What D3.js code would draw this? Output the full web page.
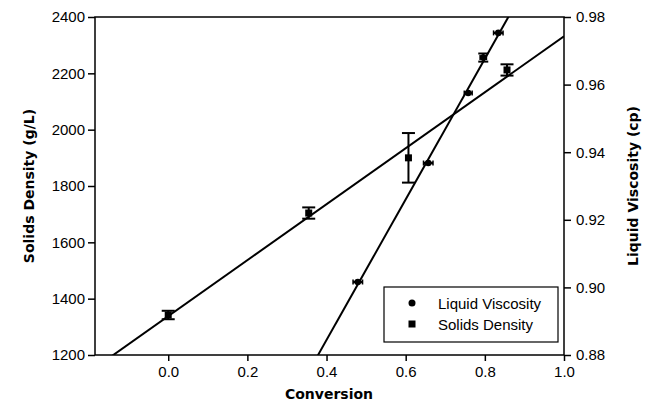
<!DOCTYPE html>
<html>
<head>
<meta charset="utf-8">
<script src="https://cdn.jsdelivr.net/npm/d3@7"></script>
<style>
  body { margin: 0; background: #fff; }
  text { font-family: "Liberation Sans", Arial, sans-serif; }
</style>
</head>
<body>
<svg id="chart" width="649" height="404"></svg>
<script>
// Solids density (left axis)
var densX = [0.0, 0.355, 0.607, 0.856];
var densY = [1342, 1704, 1900, 2212];
var densErr = [15, 20, 88, 20];

// Liquid viscosity (right axis)
var viscX = [0.479, 0.657, 0.758, 0.796, 0.834];
var viscY = [0.9016, 0.9368, 0.9575, 0.968, 0.9753];
var viscXErr = [0.012, 0.012, 0.01, 0.008, 0.012];
var viscYErr = [0, 0, 0, 0.0012, 0];

var xTicks = [0.0, 0.2, 0.4, 0.6, 0.8, 1.0];
var yLeftTicks = [1200, 1400, 1600, 1800, 2000, 2200, 2400];
var yRightTicks = [0.88, 0.90, 0.92, 0.94, 0.96, 0.98];

var svg = d3.select("#chart");
var pLeft = 95, pRight = 564, pTop = 17, pBottom = 355;
var titleFont = "'DejaVu Sans', Verdana, sans-serif";

var x = d3.scaleLinear().domain([-0.185, 1.0]).range([pLeft, pRight]);
var yL = d3.scaleLinear().domain([1200, 2400]).range([pBottom, pTop]);
var yR = d3.scaleLinear().domain([0.88, 0.98]).range([pBottom, pTop]);

// least squares fit
function fit(xs, ys) {
	var mx = d3.mean(xs), my = d3.mean(ys), sxx = 0, sxy = 0;
	for (var i = 0; i < xs.length; i++) {
		sxx += (xs[i] - mx) * (xs[i] - mx);
		sxy += (xs[i] - mx) * (ys[i] - my);
	}
	var b = sxy / sxx;
	return { b: b, a: my - b * mx };
}

svg.append("defs").append("clipPath").attr("id", "clip")
	.append("rect").attr("x", pLeft).attr("y", pTop)
	.attr("width", pRight - pLeft).attr("height", pBottom - pTop);

var plot = svg.append("g").attr("clip-path", "url(#clip)");

var fd = fit(densX, densY), fv = fit(viscX, viscY);
var xs = x.domain();
plot.append("line")
	.attr("x1", x(xs[0])).attr("y1", yL(fd.a + fd.b * xs[0]))
	.attr("x2", x(xs[1])).attr("y2", yL(fd.a + fd.b * xs[1]))
	.attr("stroke", "#000").attr("stroke-width", 2);
plot.append("line")
	.attr("x1", x(xs[0])).attr("y1", yR(fv.a + fv.b * xs[0]))
	.attr("x2", x(xs[1])).attr("y2", yR(fv.a + fv.b * xs[1]))
	.attr("stroke", "#000").attr("stroke-width", 2);

// axes
var fmt1 = d3.format(".1f"), fmt2 = d3.format(".2f"), fmt0 = d3.format("d");
svg.append("g").attr("transform", "translate(0," + pBottom + ")")
	.call(d3.axisBottom(x).tickValues(xTicks).tickFormat(fmt1).tickSize(6).tickPadding(5).tickSizeOuter(0))
	.call(function(g) { g.select(".domain").remove(); });
svg.append("g").attr("transform", "translate(" + pLeft + ",0)")
	.call(d3.axisLeft(yL).tickValues(yLeftTicks).tickFormat(fmt0).tickSize(7).tickPadding(3).tickSizeOuter(0))
	.call(function(g) { g.select(".domain").remove(); });
svg.append("g").attr("transform", "translate(" + pRight + ",0)")
	.call(d3.axisRight(yR).tickValues(yRightTicks).tickFormat(fmt2).tickSize(7).tickPadding(5).tickSizeOuter(0))
	.call(function(g) { g.select(".domain").remove(); });

svg.selectAll(".tick line").attr("stroke", "#000").attr("stroke-width", 1.5);
svg.selectAll(".tick text").attr("font-size", 15).attr("fill", "#000")
	.style("font-family", "'Liberation Sans', Arial, sans-serif");

// frame
svg.append("rect").attr("x", pLeft).attr("y", pTop)
	.attr("width", pRight - pLeft).attr("height", pBottom - pTop)
	.attr("fill", "none").attr("stroke", "#000").attr("stroke-width", 1.5);

// density error bars + squares
var dg = svg.append("g");
densX.forEach(function(d, i) {
	var cx = x(d), y0 = yL(densY[i] - densErr[i]), y1 = yL(densY[i] + densErr[i]);
	dg.append("line").attr("x1", cx).attr("x2", cx).attr("y1", y0).attr("y2", y1)
		.attr("stroke", "#000").attr("stroke-width", 2);
	[y0, y1].forEach(function(yy) {
		dg.append("line").attr("x1", cx - 6.5).attr("x2", cx + 6.5).attr("y1", yy).attr("y2", yy)
			.attr("stroke", "#000").attr("stroke-width", 2);
	});
	dg.append("rect").attr("x", cx - 3.5).attr("y", yL(densY[i]) - 3.5)
		.attr("width", 7).attr("height", 7).attr("fill", "#000");
});

// viscosity error bars + circles
var vg = svg.append("g");
viscX.forEach(function(d, i) {
	var cy = yR(viscY[i]), cx = x(d);
	if (viscXErr[i] > 0) {
		var x0 = x(d - viscXErr[i]), x1 = x(d + viscXErr[i]);
		vg.append("line").attr("x1", x0).attr("x2", x1).attr("y1", cy).attr("y2", cy)
			.attr("stroke", "#000").attr("stroke-width", 2.5);
		[x0, x1].forEach(function(xx) {
			vg.append("line").attr("x1", xx).attr("x2", xx).attr("y1", cy - 2.5).attr("y2", cy + 2.5)
				.attr("stroke", "#000").attr("stroke-width", 1.5);
		});
	}
	if (viscYErr[i] > 0) {
		var ya = yR(viscY[i] - viscYErr[i]), yb = yR(viscY[i] + viscYErr[i]);
		vg.append("line").attr("x1", cx).attr("x2", cx).attr("y1", ya).attr("y2", yb)
			.attr("stroke", "#000").attr("stroke-width", 2);
		[ya, yb].forEach(function(yy) {
			vg.append("line").attr("x1", cx - 5).attr("x2", cx + 5).attr("y1", yy).attr("y2", yy)
				.attr("stroke", "#000").attr("stroke-width", 2);
		});
	}
	vg.append("circle").attr("cx", cx).attr("cy", cy).attr("r", 3.3).attr("fill", "#000");
});

// axis titles
svg.append("text").attr("x", 329).attr("y", 399)
	.attr("text-anchor", "middle").attr("font-size", 14).attr("font-weight", "bold")
	.style("font-family", titleFont)
	.text("Conversion");
svg.append("text").attr("transform", "translate(34," + (pTop + pBottom) / 2 + ") rotate(-90)")
	.attr("text-anchor", "middle").attr("font-size", 14).attr("font-weight", "bold")
	.style("font-family", titleFont)
	.text("Solids Density (g/L)");
svg.append("text").attr("transform", "translate(638," + (pTop + pBottom) / 2 + ") rotate(-90)")
	.attr("text-anchor", "middle").attr("font-size", 14).attr("font-weight", "bold")
	.style("font-family", titleFont)
	.text("Liquid Viscosity (cp)");

// legend
var lg = svg.append("g").attr("transform", "translate(384,287)");
lg.append("rect").attr("width", 174).attr("height", 55)
	.attr("fill", "#fff").attr("stroke", "#000").attr("stroke-width", 1.2);
lg.append("circle").attr("cx", 28).attr("cy", 16).attr("r", 3.5).attr("fill", "#000");
lg.append("rect").attr("x", 24.5).attr("y", 33.5).attr("width", 7).attr("height", 7).attr("fill", "#000");
lg.append("text").attr("x", 54).attr("y", 21.5).attr("font-size", 15).text("Liquid Viscosity");
lg.append("text").attr("x", 54).attr("y", 42.5).attr("font-size", 15).text("Solids Density");
</script>
</body>
</html>
